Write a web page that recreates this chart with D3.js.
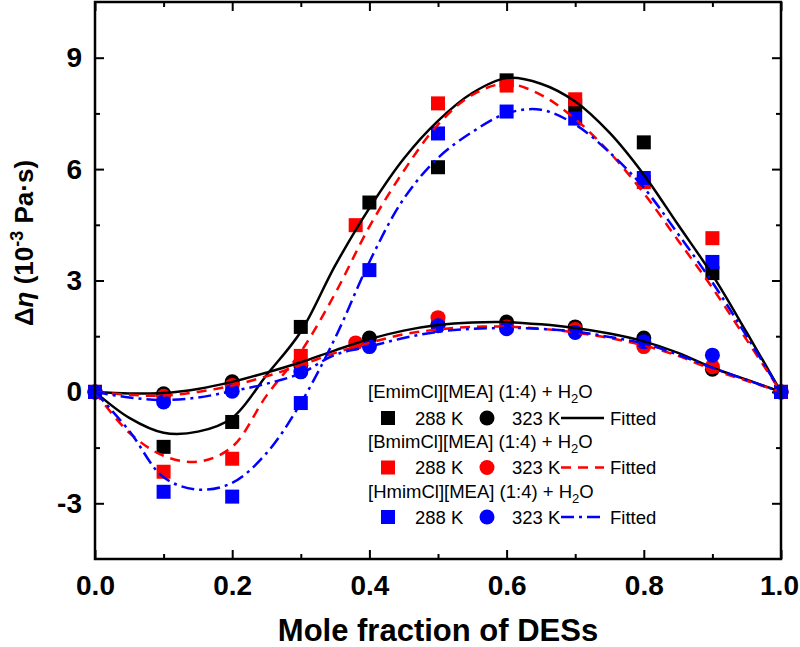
<!DOCTYPE html>
<html>
<head>
<meta charset="utf-8">
<script src="https://cdn.jsdelivr.net/npm/d3@7"></script>
<style>
  body { margin: 0; background: #fff; }
  svg { display: block; font-family: "Liberation Sans", Arial, sans-serif; }
</style>
</head>
<body>
<svg id="chart" width="800" height="647"></svg>
<script>
// measured points, mole fraction of DES
const xPts = [0, 0.1, 0.2, 0.3, 0.4, 0.5, 0.6, 0.7, 0.8, 0.9, 1.0];
const xPtsB = [0, 0.1, 0.2, 0.3, 0.38, 0.5, 0.6, 0.7, 0.8, 0.9, 1.0];

// 288 K (squares)
const emim288 = [0, -1.48, -0.81, 1.75, 5.1, 6.05, 8.39, 7.72, 6.72, 3.2, 0];
const bmim288 = [0, -2.15, -1.8, 0.97, 4.49, 7.77, 8.25, 7.88, 5.65, 4.14, 0];
const hmim288 = [0, -2.69, -2.82, -0.3, 3.28, 6.96, 7.55, 7.36, 5.76, 3.5, 0];
// 323 K (circles)
const emim323 = [0, -0.05, 0.27, 0.72, 1.45, 1.82, 1.88, 1.75, 1.45, 0.61, 0];
const bmim323 = [0, -0.12, 0.17, 0.78, 1.32, 2.0, 1.75, 1.68, 1.22, 0.68, 0];
const hmim323 = [0, -0.27, 0.02, 0.54, 1.22, 1.78, 1.7, 1.6, 1.35, 0.99, 0];

// fitted curves
const fitX = [0, 0.05, 0.1, 0.15, 0.2, 0.25, 0.3, 0.35, 0.4, 0.45, 0.5, 0.55, 0.6, 0.65, 0.7, 0.75, 0.8, 0.85, 0.9, 0.95, 1.0];
const fitEmim288 = [0, -0.7, -1.1, -1.07, -0.7, 0.45, 1.62, 3.4, 4.95, 6.28, 7.3, 8.05, 8.45, 8.3, 7.82, 6.98, 5.85, 4.5, 3.15, 1.6, 0];
const fitBmim288 = [0, -1.1, -1.72, -1.88, -1.48, -0.1, 1.08, 2.65, 4.45, 5.95, 7.2, 8.0, 8.3, 8.0, 7.35, 6.45, 5.35, 4.08, 2.8, 1.4, 0];
const fitHmim288 = [0, -1.05, -2.3, -2.63, -2.45, -1.65, -0.3, 1.45, 3.5, 5.2, 6.3, 7.0, 7.5, 7.6, 7.2, 6.45, 5.5, 4.25, 2.95, 1.5, 0];
const fitEmim323 = [0, -0.04, -0.03, 0.08, 0.27, 0.52, 0.8, 1.12, 1.42, 1.65, 1.8, 1.87, 1.88, 1.82, 1.72, 1.57, 1.36, 1.05, 0.65, 0.33, 0];
const fitBmim323 = [0, -0.08, -0.1, 0.0, 0.17, 0.42, 0.72, 1.05, 1.32, 1.55, 1.68, 1.75, 1.76, 1.7, 1.6, 1.45, 1.25, 0.97, 0.6, 0.3, 0];
const fitHmim323 = [0, -0.15, -0.22, -0.15, 0.02, 0.22, 0.5, 1.0, 1.22, 1.45, 1.62, 1.7, 1.72, 1.7, 1.62, 1.48, 1.3, 1.0, 0.65, 0.32, 0];

const xMajor = [0, 0.2, 0.4, 0.6, 0.8, 1.0];
const xMinor = [0.1, 0.3, 0.5, 0.7, 0.9];
const yMajor = [-3, 0, 3, 6, 9];
const yMinor = [-1.5, 1.5, 4.5, 7.5];

const systems = [
  { name: "[EmimCl][MEA] (1:4) + H", color: "#000000", dash: null,
    xs: xPts, s288: emim288, s323: emim323, f288: fitEmim288, f323: fitEmim323 },
  { name: "[BmimCl][MEA] (1:4) + H", color: "#ff0000", dash: "10,7",
    xs: xPtsB, s288: bmim288, s323: bmim323, f288: fitBmim288, f323: fitBmim323 },
  { name: "[HmimCl][MEA] (1:4) + H", color: "#0000ff", dash: "13,5,3,5",
    xs: xPts, s288: hmim288, s323: hmim323, f288: fitHmim288, f323: fitHmim323 }
];

const svg = d3.select("#chart");
const pLeft = 95, pRight = 781, pTop = 2, pBottom = 559;

const x = d3.scaleLinear().domain([0, 1]).range([pLeft, pRight]);
const y = d3.scaleLinear().domain([-4.5, 10.5]).range([pBottom, pTop]);

// axes, all ticks pointing inward
function styleAxis(g) {
  g.select(".domain").remove();
  g.selectAll(".tick line").attr("stroke", "#000").attr("stroke-width", 2);
  g.selectAll(".tick text").attr("fill", "#000").attr("font-weight", "bold").attr("font-size", 28)
    .attr("font-family", "'Liberation Sans', Arial, sans-serif");
}
svg.append("g").attr("transform", `translate(0,${pBottom})`)
  .call(d3.axisBottom(x).tickValues(xMajor).tickSize(-9).tickPadding(16).tickFormat(d3.format(".1f")))
  .call(styleAxis);
svg.append("g").attr("transform", `translate(0,${pBottom})`)
  .call(d3.axisBottom(x).tickValues(xMinor).tickSize(-5).tickFormat(""))
  .call(styleAxis);
svg.append("g").attr("transform", `translate(0,${pTop})`)
  .call(d3.axisTop(x).tickValues(xMajor).tickSize(-9).tickFormat(""))
  .call(styleAxis);
svg.append("g").attr("transform", `translate(0,${pTop})`)
  .call(d3.axisTop(x).tickValues(xMinor).tickSize(-5).tickFormat(""))
  .call(styleAxis);
svg.append("g").attr("transform", `translate(${pLeft},0)`)
  .call(d3.axisLeft(y).tickValues(yMajor).tickSize(-9).tickPadding(13).tickFormat(d3.format("d")))
  .call(styleAxis);
svg.append("g").attr("transform", `translate(${pLeft},0)`)
  .call(d3.axisLeft(y).tickValues(yMinor).tickSize(-5).tickFormat(""))
  .call(styleAxis);
svg.append("g").attr("transform", `translate(${pRight},0)`)
  .call(d3.axisRight(y).tickValues(yMajor).tickSize(-9).tickFormat(""))
  .call(styleAxis);
svg.append("g").attr("transform", `translate(${pRight},0)`)
  .call(d3.axisRight(y).tickValues(yMinor).tickSize(-5).tickFormat(""))
  .call(styleAxis);

// hyphen for negative labels like the original
svg.selectAll(".tick text").text(function() { return d3.select(this).text().replace("−", "-"); });
// keep the last x label inside the page
svg.selectAll(".tick text").filter(d => d === 1).attr("dx", -2);

const plot = svg.append("g");
const sq = 14, rad = 7.5;

// markers
systems.forEach(s => {
  plot.append("g").selectAll("rect").data(s.xs.map((v, i) => [v, s.s288[i]])).join("rect")
    .attr("x", d => x(d[0]) - sq / 2).attr("y", d => y(d[1]) - sq / 2)
    .attr("width", sq).attr("height", sq).attr("fill", s.color);
});
systems.forEach(s => {
  plot.append("g").selectAll("circle").data(s.xs.map((v, i) => [v, s.s323[i]])).join("circle")
    .attr("cx", d => x(d[0])).attr("cy", d => y(d[1])).attr("r", rad).attr("fill", s.color);
});

// fitted lines
const line = d3.line().x(d => x(d[0])).y(d => y(d[1])).curve(d3.curveCatmullRom.alpha(0.5));
systems.forEach(s => {
  [s.f288, s.f323].forEach(f => {
    plot.append("path").datum(fitX.map((v, i) => [v, f[i]]))
      .attr("d", line).attr("fill", "none").attr("stroke", s.color)
      .attr("stroke-width", 2.5).attr("stroke-dasharray", s.dash);
  });
});

// frame
svg.append("rect").attr("x", pLeft).attr("y", pTop).attr("width", pRight - pLeft).attr("height", pBottom - pTop)
  .attr("fill", "none").attr("stroke", "#000").attr("stroke-width", 2.5);

// legend
const lg = svg.append("g").attr("font-size", 18.5).attr("fill", "#000");
systems.forEach((s, i) => {
  const ty = 398 + i * 50, ry = 418 + i * 49.5;
  const t = lg.append("text").attr("x", 368).attr("y", ty).text(s.name);
  t.append("tspan").attr("font-size", 13).attr("dy", 5).text("2");
  t.append("tspan").attr("dy", -5).text("O");
  lg.append("rect").attr("x", 388 - sq / 2).attr("y", ry - sq / 2).attr("width", sq).attr("height", sq).attr("fill", s.color);
  lg.append("text").attr("x", 415).attr("y", ry + 6.5).text("288 K");
  lg.append("circle").attr("cx", 487).attr("cy", ry).attr("r", rad).attr("fill", s.color);
  lg.append("text").attr("x", 512).attr("y", ry + 6.5).text("323 K");
  lg.append("line").attr("x1", 561).attr("x2", 604).attr("y1", ry).attr("y2", ry)
    .attr("stroke", s.color).attr("stroke-width", 2.5).attr("stroke-dasharray", s.dash);
  lg.append("text").attr("x", 610).attr("y", ry + 6.5).text("Fitted");
});

// axis titles
svg.append("text").attr("x", (pLeft + pRight) / 2).attr("y", 641).attr("text-anchor", "middle")
  .attr("font-size", 31).attr("font-weight", "bold").text("Mole fraction of DESs");

const yt = svg.append("text").attr("transform", `translate(33,243) rotate(-90)`)
  .attr("text-anchor", "middle").attr("font-size", 26).attr("font-weight", "bold");
yt.append("tspan").text("Δ");
yt.append("tspan").attr("font-style", "italic").text("η");
yt.append("tspan").text(" (10");
yt.append("tspan").attr("font-size", 18).attr("dy", -10).text("-3");
yt.append("tspan").attr("dy", 10).text(" Pa·s)");
</script>
</body>
</html>
